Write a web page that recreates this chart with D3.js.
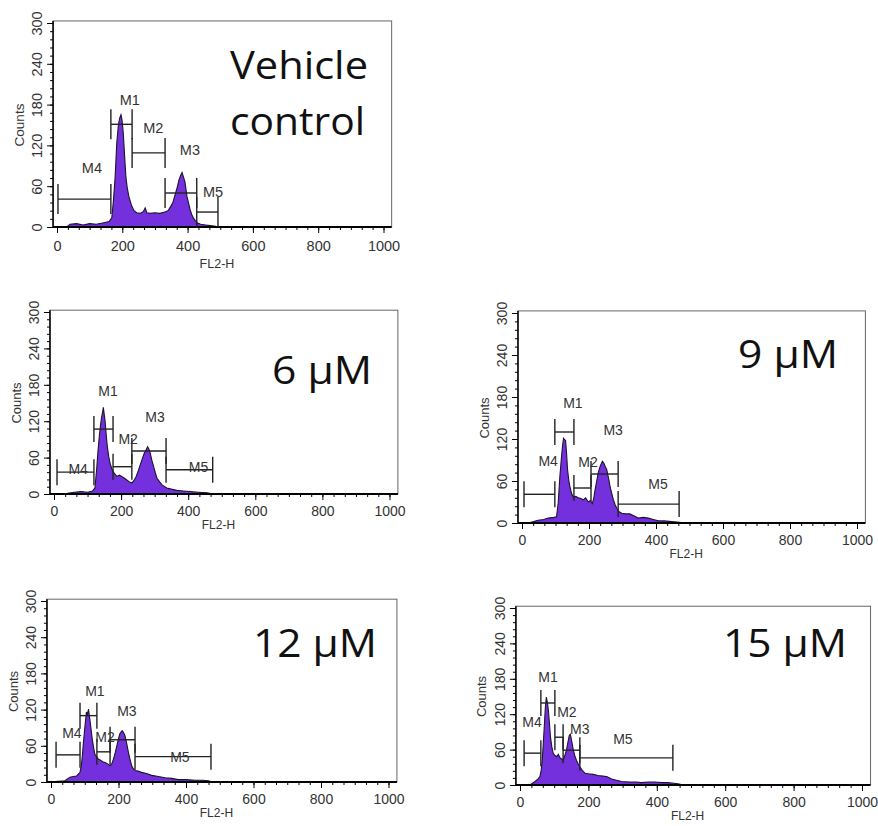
<!DOCTYPE html>
<html>
<head>
<meta charset="utf-8">
<script src="https://cdn.jsdelivr.net/npm/d3@7"></script>
<style>
  body { margin: 0; background: #fff; }
  svg { display: block; }
</style>
</head>
<body>
<svg id="chart" width="878" height="826"></svg>
<script>
// ---- data ----
const markerNames = ["M1", "M2", "M3", "M4", "M5"]
const xTickValues = [0, 200, 400, 600, 800, 1000]
const yTickValues = [0, 60, 120, 180, 240, 300]

// vehicle control histogram (channel, counts)
const vehicleChannels = [0, 30, 40, 60, 80, 100, 120, 140, 160, 168, 173, 178, 183, 188, 192, 196, 199, 203, 207, 211, 215, 220, 228, 236, 244, 255, 265, 270, 275, 285, 300, 315, 330, 340, 348, 355, 362, 368, 374, 379, 383, 387, 392, 398, 403, 408, 413, 418, 424, 430, 440, 455, 470, 485, 495]
const vehicleCounts = [0, 0, 4, 5, 3, 5, 4, 6, 8, 14, 40, 73, 123, 150, 160, 165, 158, 138, 105, 74, 58, 45, 32, 24, 21, 20, 23, 28, 21, 20, 21, 20, 22, 24, 30, 36, 48, 58, 70, 76, 80, 74, 66, 45, 35, 25, 18, 13, 9, 6, 4, 3, 2, 1, 0]

// 6 uM
const dose6Channels = [0, 40, 60, 80, 100, 115, 122, 127, 131, 135, 139, 142, 145, 147, 150, 152, 156, 159, 163, 167, 172, 177, 187, 195, 202, 210, 217, 225, 232, 238, 245, 251, 257, 263, 269, 274, 279, 283, 287, 292, 297, 302, 307, 315, 322, 336, 350, 366, 385, 406, 430, 456, 475]
const dose6Counts = [0, 1, 3, 4, 3, 5, 10, 40, 70, 95, 115, 127, 135, 143, 130, 122, 95, 78, 62, 51, 42, 36, 29, 31, 29, 26, 23, 20, 18, 22, 29, 38, 48, 58, 67, 72, 78, 74, 67, 55, 45, 35, 26, 20, 15, 10, 8, 6, 5, 4, 3, 2, 0]

// 9 uM
const dose9Channels = [0, 19, 35, 48, 65, 78, 95, 103, 108, 113, 118, 121, 124, 127, 130, 133, 136, 140, 143, 148, 153, 160, 168, 176, 183, 190, 198, 204, 210, 214, 218, 223, 228, 234, 240, 245, 249, 253, 258, 263, 268, 273, 278, 283, 290, 298, 310, 322, 335, 347, 362, 377, 392, 407, 425, 447, 470, 485]
const dose9Counts = [0, 0, 2, 4, 5, 7, 8, 9, 28, 66, 95, 110, 121, 119, 118, 100, 76, 60, 52, 42, 37, 38, 36, 35, 33, 36, 30, 32, 28, 35, 47, 60, 73, 82, 88, 85, 80, 76, 65, 52, 42, 33, 26, 21, 16, 14, 13, 13, 10, 7, 8, 7, 5, 3, 3, 2, 1, 0]

// 12 uM
const dose12Channels = [0, 20, 41, 56, 66, 76, 86, 90, 93, 96, 99, 102, 105, 108, 111, 114, 116, 119, 122, 126, 130, 135, 140, 147, 155, 162, 168, 175, 180, 185, 190, 195, 200, 204, 208, 211, 215, 219, 224, 229, 234, 239, 244, 249, 258, 268, 283, 298, 318, 338, 358, 377, 400, 427, 450, 466, 478]
const dose12Counts = [0, 1, 2, 8, 9, 10, 16, 28, 44, 65, 83, 100, 116, 112, 121, 108, 100, 86, 72, 58, 46, 42, 38, 36, 33, 32, 30, 27, 30, 38, 48, 60, 72, 80, 83, 85, 82, 77, 65, 50, 38, 27, 22, 19, 18, 16, 14, 11, 9, 7, 6, 4, 4, 3, 3, 2, 0]

// 15 uM
const dose15Channels = [0, 29, 44, 52, 58, 62, 65, 68, 71, 74, 77, 80, 83, 86, 89, 93, 97, 102, 107, 112, 117, 122, 126, 131, 136, 140, 144, 147, 149, 152, 156, 160, 165, 170, 175, 182, 190, 200, 214, 228, 243, 255, 268, 282, 297, 320, 340, 355, 375, 394, 415, 433, 450, 462, 478]
const dose15Counts = [0, 0, 6, 10, 14, 25, 42, 70, 99, 130, 149, 140, 127, 105, 82, 65, 54, 50, 48, 52, 46, 44, 42, 50, 59, 72, 84, 86, 81, 72, 59, 50, 42, 36, 31, 25, 20, 19, 18, 16, 15, 14, 10, 8, 6, 5, 5, 4, 5, 5, 4, 4, 3, 2, 0]

// gate markers [from channel, to channel, bar level in counts], order M1..M5
const vehicleMarkers = [[165, 230, 151], [230, 331, 109], [331, 428, 50], [3, 165, 41], [428, 493, 22]]
const dose6Markers = [[119, 176, 107], [176, 232, 45], [232, 334, 71], [9, 119, 36], [334, 473, 40]]
const dose9Markers = [[98, 155, 130], [155, 206, 50], [206, 287, 70], [6, 98, 41], [287, 469, 27]]
const dose12Markers = [[86, 136, 110], [136, 175, 50], [175, 249, 70], [15, 86, 45], [249, 474, 42]]
const dose15Markers = [[61, 102, 139], [102, 126, 81], [126, 175, 59], [12, 61, 54], [175, 447, 46]]

// marker label anchors [channel, counts], order M1..M5
const vehicleMarkerLabels = [[223, 187], [295, 145], [407, 113], [107, 87], [478, 52]]
const dose6MarkerLabels = [[161, 170], [221, 90], [301, 127], [72, 41], [431, 45]]
const dose9MarkerLabels = [[152, 171], [197, 87], [272, 133], [78, 89], [406, 56]]
const dose12MarkerLabels = [[130, 150], [160, 75], [225, 117], [62, 81], [382, 42]]
const dose15MarkerLabels = [[82, 183], [137, 124], [175, 95], [35, 107], [301, 78]]

// ---- layout (pixel placement of each panel) ----
const panels = [
  { title: ["Vehicle", "control"], channels: vehicleChannels, counts: vehicleCounts, markers: vehicleMarkers, labels: vehicleMarkerLabels,
    x0: 57, x1: 383.5, yb: 227, yt: 23, titleX: 230, titleY: [79, 135], titleW: [138, 135], font: 14.5 },
  { title: ["6 µM"], channels: dose6Channels, counts: dose6Counts, markers: dose6Markers, labels: dose6MarkerLabels,
    x0: 54, x1: 389.5, yb: 494, yt: 312, titleX: 272, titleY: [384], titleW: [100], font: 14 },
  { title: ["9 µM"], channels: dose9Channels, counts: dose9Counts, markers: dose9Markers, labels: dose9MarkerLabels,
    x0: 522, x1: 857, yb: 523, yt: 313, titleX: 738, titleY: [368], titleW: [100], font: 14 },
  { title: ["12 µM"], channels: dose12Channels, counts: dose12Counts, markers: dose12Markers, labels: dose12MarkerLabels,
    x0: 51, x1: 388.5, yb: 782, yt: 601, titleX: 253, titleY: [657], titleW: [124], font: 14 },
  { title: ["15 µM"], channels: dose15Channels, counts: dose15Counts, markers: dose15Markers, labels: dose15MarkerLabels,
    x0: 520, x1: 862, yb: 785, yt: 608, titleX: 723, titleY: [657], titleW: [124], font: 14 }
]

const svg = d3.select("#chart")
const axisFont = "'Liberation Sans', Arial, sans-serif"
const fillColor = "#7330dc"

panels.forEach(drawPanel)

function drawPanel(p) {
  const x = d3.scaleLinear().domain([0, 1000]).range([p.x0, p.x1])
  const y = d3.scaleLinear().domain([0, 300]).range([p.yb, p.yt])
  const big = p.font > 14
  const g = svg.append("g")

  // thin frame round the plot
  g.append("rect")
    .attr("x", x(-12))
    .attr("y", y(303))
    .attr("width", x(1025) - x(-12))
    .attr("height", y(0) - y(303))
    .attr("fill", "none")
    .attr("stroke", "#666")
    .attr("stroke-width", 1)

  // histogram
  const pts = p.channels.map((c, i) => [c, p.counts[i]])
  g.append("path")
    .datum(pts)
    .attr("fill", fillColor)
    .attr("d", d3.area().x(d => x(d[0])).y0(y(0)).y1(d => y(d[1])))
  g.append("path")
    .datum(pts)
    .attr("fill", "none")
    .attr("stroke", "#1d1330")
    .attr("stroke-width", 1.1)
    .attr("d", d3.line().x(d => x(d[0])).y(d => y(d[1])))

  // x axis: major ticks every 200, minor every 200/6
  const xMinor = d3.range(0, 1001, 200 / 6)
  g.append("g")
    .attr("transform", `translate(0,${y(0)})`)
    .call(d3.axisBottom(x).tickValues(xMinor).tickSize(3).tickFormat(""))
    .call(s => s.select(".domain").remove())
  const xAxis = g.append("g")
    .attr("transform", `translate(0,${y(0)})`)
    .call(d3.axisBottom(x).tickValues(xTickValues).tickSize(6).tickPadding(big ? 8 : 6).tickFormat(d3.format("d")))
    .call(s => s.select(".domain").remove())
  xAxis.selectAll("text")
    .style("font-family", axisFont)
    .style("font-size", p.font + "px")
    .style("fill", "#333")
  g.append("line")
    .attr("x1", x(-12)).attr("x2", x(1025))
    .attr("y1", y(0)).attr("y2", y(0))
    .attr("stroke", "#000").attr("stroke-width", 2)

  g.append("text")
    .attr("x", x(500) - (p.x1 - p.x0) * 0.01)
    .attr("y", y(0) + (big ? 41 : 35))
    .attr("text-anchor", "middle")
    .style("font-family", axisFont)
    .style("font-size", (p.font - 2) + "px")
    .style("fill", "#333")
    .text("FL2-H")

  // y axis: major every 60, minor every 12
  g.append("g")
    .attr("transform", `translate(${x(-12)},0)`)
    .call(d3.axisLeft(y).tickValues(d3.range(0, 301, 12)).tickSize(3).tickFormat(""))
    .call(s => s.select(".domain").remove())
  const yAxis = g.append("g")
    .attr("transform", `translate(${x(-12)},0)`)
    .call(d3.axisLeft(y).tickValues(yTickValues).tickSize(6))
    .call(s => s.select(".domain").remove())
  yAxis.selectAll("text")
    .attr("x", 0)
    .attr("y", -16)
    .attr("dy", "0.35em")
    .attr("transform", "rotate(-90)")
    .attr("text-anchor", "middle")
    .style("font-family", axisFont)
    .style("font-size", p.font + "px")
    .style("fill", "#333")
  g.append("line")
    .attr("x1", x(-12)).attr("x2", x(-12))
    .attr("y1", y(0)).attr("y2", y(303))
    .attr("stroke", "#000").attr("stroke-width", 1.5)

  g.append("text")
    .attr("transform", `translate(${x(-12) - 34},${y(150)}) rotate(-90)`)
    .attr("text-anchor", "middle")
    .attr("dy", "0.35em")
    .style("font-family", axisFont)
    .style("font-size", (p.font - 1) + "px")
    .style("fill", "#333")
    .text("Counts")

  // gate markers
  const cap = big ? 15 : 13
  p.markers.forEach(m => {
    const [a, b, lv] = m
    const yy = y(lv)
    g.append("line")
      .attr("x1", x(a)).attr("x2", x(b)).attr("y1", yy).attr("y2", yy)
      .attr("stroke", "#222").attr("stroke-width", 1.4)
    ;[a, b].forEach(c => {
      g.append("line")
        .attr("x1", x(c)).attr("x2", x(c)).attr("y1", yy - cap).attr("y2", yy + cap)
        .attr("stroke", "#222").attr("stroke-width", 1.4)
    })
  })
  p.labels.forEach((l, i) => {
    g.append("text")
      .attr("x", x(l[0]))
      .attr("y", y(l[1]))
      .attr("dy", "0.35em")
      .attr("text-anchor", "middle")
      .style("font-family", axisFont)
      .style("font-size", p.font + "px")
      .style("fill", "#333")
      .text(markerNames[i])
  })

  // condition title
  p.title.forEach((t, i) => {
    g.append("text")
      .attr("x", p.titleX)
      .attr("y", p.titleY[i])
      .attr("textLength", p.titleW[i])
      .attr("lengthAdjust", "spacingAndGlyphs")
      .style("font-family", "'Open Sans', 'Noto Sans', sans-serif")
      .style("font-size", "38px")
      .style("fill", "#111")
      .text(t)
  })
}
</script>
</body>
</html>
